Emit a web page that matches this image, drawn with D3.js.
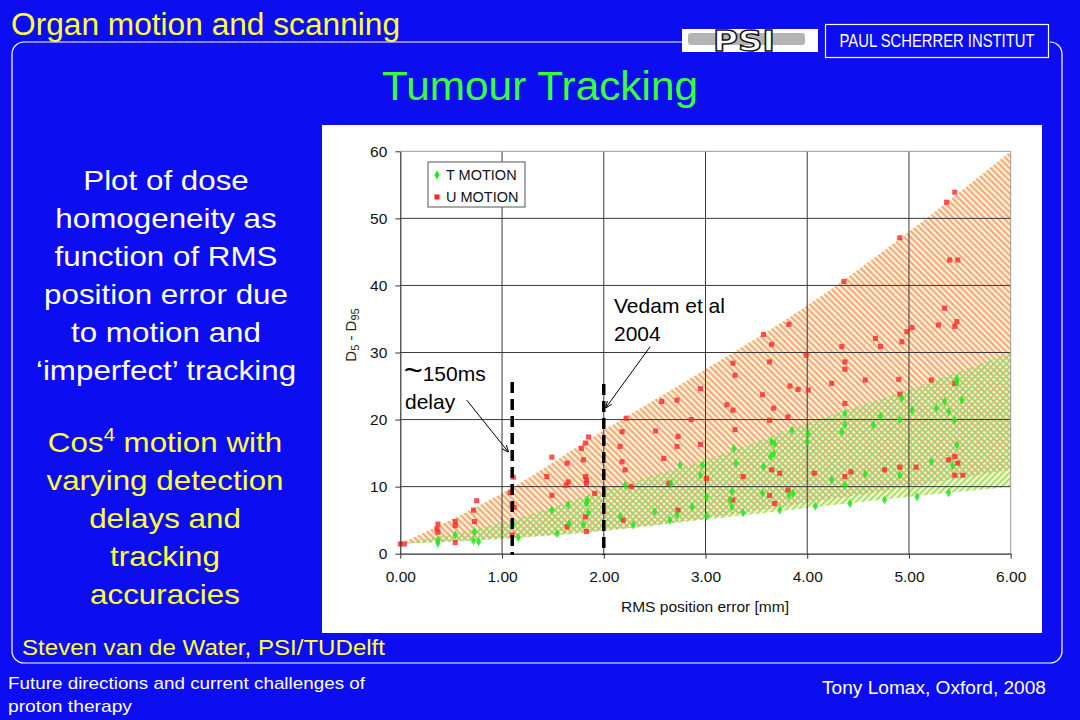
<!DOCTYPE html>
<html>
<head>
<meta charset="utf-8">
<script src="https://cdn.jsdelivr.net/npm/d3@7"></script>
<style>
  body { margin: 0; background: #0d0df2; }
  svg { display: block; }
</style>
</head>
<body>
<div id="slide"></div>
<script>
// data
var xTicks = [0, 1, 2, 3, 4, 5, 6];
var yTicks = [0, 10, 20, 30, 40, 50, 60];

// band edges (D5 - D95 against RMS error)
var bandX = [0, 1, 2, 3, 4, 5, 6];
var uUpper = [1.5, 9.0, 18.4, 27.5, 37.0, 48.0, 60.0];
var uLower = [1.5, 2.3, 3.5, 5.3, 7.6, 10.0, 12.5];
var tUpper = [1.5, 4.6, 9.5, 14.0, 19.5, 24.5, 30.0];
var tLower = [1.5, 2.2, 3.4, 5.1, 6.8, 8.5, 10.0];

// T MOTION points [rms, d5-d95]
var tMotion = [
  [0.37, 1.55], [0.37, 2.0], [0.54, 2.8], [0.72, 1.95], [0.77, 1.8], [0.73, 3.3],
  [1.11, 4.5], [1.16, 2.4], [1.49, 6.5], [1.54, 3.0], [1.65, 7.3], [1.66, 4.5],
  [1.80, 4.3], [1.83, 7.5], [1.84, 8.0], [1.85, 6.1],
  [2.16, 5.5], [2.21, 10.2], [2.29, 4.3], [2.50, 6.3], [2.65, 5.0], [2.66, 10.5],
  [2.72, 5.8], [2.75, 13.2], [2.87, 7.0], [2.95, 11.7], [2.97, 13.2],
  [3.01, 8.5], [3.01, 5.6], [3.24, 8.0], [3.26, 9.3], [3.26, 7.0], [3.28, 15.7],
  [3.30, 13.5], [3.37, 6.1], [3.56, 9.0], [3.57, 13.0], [3.64, 14.5], [3.65, 16.7],
  [3.67, 14.9], [3.68, 16.4], [3.73, 6.5], [3.82, 8.7], [3.85, 18.4], [3.86, 9.0],
  [4.00, 16.7], [4.01, 17.9], [4.08, 7.1], [4.24, 11.0], [4.34, 18.2], [4.37, 19.2],
  [4.37, 20.9], [4.37, 10.2], [4.42, 7.5], [4.57, 11.9], [4.65, 19.2], [4.72, 20.5],
  [4.76, 8.0], [4.91, 20.0], [4.93, 23.2], [4.91, 11.7], [5.03, 21.4], [5.08, 8.5],
  [5.22, 13.7], [5.27, 21.7], [5.35, 22.7], [5.39, 21.2], [5.39, 9.1], [5.43, 13.1],
  [5.45, 19.9], [5.47, 16.2], [5.47, 26.1], [5.47, 25.5], [5.52, 22.9]
];

// U MOTION points [rms, d5-d95]
var uMotion = [
  [0.00, 1.45], [0.04, 1.45], [0.36, 3.7], [0.37, 4.4], [0.37, 3.2], [0.54, 4.8],
  [0.54, 4.2], [0.54, 1.65], [0.72, 6.5], [0.75, 7.9], [0.73, 4.8],
  [1.10, 2.8], [1.10, 7.3], [1.12, 6.9], [1.08, 9.1], [1.11, 11.4],
  [1.44, 11.5], [1.49, 14.4], [1.49, 8.7], [1.64, 13.5], [1.65, 10.7], [1.63, 10.2],
  [1.64, 4.0], [1.78, 15.7], [1.80, 14.0], [1.82, 16.5], [1.85, 17.4], [1.82, 11.5],
  [1.83, 11.0], [1.83, 10.5], [1.82, 5.5], [1.83, 3.3], [1.91, 9.0],
  [2.16, 16.0], [2.18, 18.2], [2.18, 13.7], [2.21, 12.5], [2.22, 20.2], [2.19, 5.0],
  [2.27, 10.0], [2.51, 18.3], [2.57, 22.7], [2.59, 14.2], [2.64, 10.5], [2.72, 22.9],
  [2.72, 16.0], [2.73, 17.5], [2.73, 6.5], [2.86, 20.0], [2.95, 24.6], [2.95, 16.3],
  [3.01, 11.2], [3.21, 22.2], [3.27, 21.4], [3.27, 28.4], [3.29, 26.6], [3.29, 18.5],
  [3.27, 8.0], [3.37, 11.5], [3.56, 23.7], [3.57, 32.7], [3.63, 28.6], [3.65, 31.2],
  [3.63, 19.9], [3.67, 21.7], [3.65, 12.5], [3.73, 12.0], [3.63, 8.7], [3.68, 7.5],
  [3.81, 9.5], [3.81, 20.4], [3.83, 25.0], [3.91, 24.5], [3.82, 34.2], [3.99, 29.6],
  [4.01, 24.4], [4.07, 12.0], [4.24, 25.4], [4.34, 30.9], [4.36, 40.6], [4.37, 28.6],
  [4.37, 27.5], [4.37, 22.4], [4.37, 11.5], [4.43, 12.2], [4.57, 25.9], [4.67, 32.1],
  [4.72, 30.9], [4.76, 12.5], [4.90, 26.0], [4.91, 23.8], [4.91, 47.1], [4.93, 31.6],
  [4.98, 33.1], [5.03, 33.7], [4.91, 12.9], [5.07, 12.9], [5.22, 25.9], [5.29, 34.1],
  [5.35, 36.6], [5.37, 52.4], [5.45, 53.9], [5.40, 43.8], [5.48, 43.8], [5.47, 34.6],
  [5.45, 33.9], [5.45, 25.4], [5.39, 14.0], [5.45, 14.5], [5.48, 13.5], [5.45, 11.7],
  [5.53, 11.7]
];

// dashed delay markers [rms, top]
var delayLines = [[1.1, 25.6], [2.0, 25.3]];

var leftLines = ["Plot of dose", "homogeneity as", "function of RMS", "position error due",
  "to motion and", "\u2018imperfect\u2019 tracking"];
var yellowLines = ["motion with", "varying detection", "delays and", "tracking", "accuracies"];

var sans = "Liberation Sans, Arial, sans-serif";

var svg = d3.select("#slide").append("svg")
  .attr("width", 1080)
  .attr("height", 720);

var defs = svg.append("defs");
defs.append("pattern")
  .attr("id", "uHatch")
  .attr("patternUnits", "userSpaceOnUse")
  .attr("width", 4.4).attr("height", 4.4)
  .attr("patternTransform", "rotate(-45)")
  .append("rect").attr("width", 1.9).attr("height", 4.4).attr("fill", "#f39482");
defs.append("pattern")
  .attr("id", "tHatch")
  .attr("patternUnits", "userSpaceOnUse")
  .attr("width", 4.4).attr("height", 4.4)
  .attr("patternTransform", "rotate(45)")
  .append("rect").attr("width", 1.9).attr("height", 4.4).attr("fill", "#82e262");
var arrow = defs.append("marker")
  .attr("id", "arr")
  .attr("viewBox", "0 0 10 10")
  .attr("refX", 9).attr("refY", 5)
  .attr("markerWidth", 7).attr("markerHeight", 7)
  .attr("orient", "auto");
arrow.append("path").attr("d", "M0,1 L10,5 L0,9").attr("fill", "none").attr("stroke", "#000").attr("stroke-width", 1.4);

// slide frame, open where the logo sits
svg.append("path")
  .attr("d", "M682,42 H24 A12,12 0 0 0 12,54 V651 A12,12 0 0 0 24,663 H1050 A12,12 0 0 0 1062,651 V54 A12,12 0 0 0 1050,42")
  .attr("fill", "none")
  .attr("stroke", "#fff")
  .attr("stroke-width", 1.2);

svg.append("text")
  .attr("x", 11).attr("y", 35)
  .attr("font-family", sans)
  .attr("font-size", 31)
  .attr("textLength", 389)
  .attr("lengthAdjust", "spacingAndGlyphs")
  .attr("fill", "#ffff3c")
  .text("Organ motion and scanning");

// logo
svg.append("rect").attr("x", 682).attr("y", 29).attr("width", 136).attr("height", 23).attr("fill", "#fff");
svg.append("rect").attr("x", 688).attr("y", 33).attr("width", 117).attr("height", 12).attr("rx", 3).attr("fill", "#b4b4b4");
svg.append("text")
  .attr("x", 713).attr("y", 51)
  .attr("font-family", "DejaVu Sans, sans-serif")
  .attr("font-weight", "bold")
  .attr("font-size", 28)
  .attr("textLength", 62)
  .attr("lengthAdjust", "spacingAndGlyphs")
  .attr("fill", "#fff")
  .attr("stroke", "#111")
  .attr("stroke-width", 1.3)
  .text("PSI");
svg.append("rect").attr("x", 825.5).attr("y", 24.5).attr("width", 223).attr("height", 33)
  .attr("fill", "#0d0df2").attr("stroke", "#fff").attr("stroke-width", 1.2);
svg.append("text")
  .attr("transform", "translate(937,47) scale(0.78,1)")
  .attr("text-anchor", "middle")
  .attr("font-family", sans)
  .attr("font-size", 19)
  .attr("fill", "#fff")
  .text("PAUL SCHERRER INSTITUT");

svg.append("text")
  .attr("x", 540).attr("y", 100)
  .attr("text-anchor", "middle")
  .attr("font-family", sans)
  .attr("font-size", 40)
  .attr("textLength", 316)
  .attr("lengthAdjust", "spacingAndGlyphs")
  .attr("fill", "#3cff3c")
  .text("Tumour Tracking");

// left description, stretched like the slide
var leftG = svg.append("g").attr("transform", "translate(166,0) scale(1.12,1)");
leftG.selectAll("text")
  .data(leftLines).enter().append("text")
  .attr("x", 0)
  .attr("y", (d, i) => 190 + i * 38)
  .attr("text-anchor", "middle")
  .attr("font-family", sans)
  .attr("font-size", 28)
  .attr("fill", "#fff")
  .text(d => d);

var yellowG = svg.append("g").attr("transform", "translate(165,0) scale(1.12,1)");
var yl = yellowG.selectAll("text")
  .data(yellowLines).enter().append("text")
  .attr("x", 0)
  .attr("y", (d, i) => 452 + i * 38)
  .attr("text-anchor", "middle")
  .attr("font-family", sans)
  .attr("font-size", 28)
  .attr("fill", "#ffff3c");
yl.each(function(d, i) {
  var t = d3.select(this);
  if (i === 0) {
    t.append("tspan").text("Cos");
    t.append("tspan").attr("dy", -11).attr("font-size", 18).text("4");
    t.append("tspan").attr("dy", 11).text(" " + d);
  } else {
    t.text(d);
  }
});

svg.append("text")
  .attr("x", 22).attr("y", 655)
  .attr("font-family", sans)
  .attr("font-size", 22)
  .attr("textLength", 363)
  .attr("lengthAdjust", "spacingAndGlyphs")
  .attr("fill", "#ffff3c")
  .text("Steven van de Water, PSI/TUDelft");

svg.append("text")
  .attr("x", 8).attr("y", 689).attr("font-family", sans).attr("font-size", 17)
  .attr("textLength", 357).attr("lengthAdjust", "spacingAndGlyphs").attr("fill", "#fff")
  .text("Future directions and current challenges of");
svg.append("text")
  .attr("x", 8).attr("y", 712).attr("font-family", sans).attr("font-size", 17)
  .attr("textLength", 124).attr("lengthAdjust", "spacingAndGlyphs").attr("fill", "#fff")
  .text("proton therapy");
svg.append("text")
  .attr("x", 822).attr("y", 694).attr("font-family", sans).attr("font-size", 18)
  .attr("textLength", 224).attr("lengthAdjust", "spacingAndGlyphs").attr("fill", "#fff")
  .text("Tony Lomax, Oxford, 2008");

// chart panel
svg.append("rect").attr("x", 322).attr("y", 125).attr("width", 720).attr("height", 508).attr("fill", "#fff");

var x = d3.scaleLinear().domain([0, 6]).range([400.3, 1010.7]);
var y = d3.scaleLinear().domain([0, 60]).range([553.7, 151.3]);

var chart = svg.append("g").attr("font-family", sans);

var bandU = bandX.map((v, i) => ({ x: v, lo: uLower[i], hi: uUpper[i] }));
var bandT = bandX.map((v, i) => ({ x: v, lo: tLower[i], hi: tUpper[i] }));
var area = d3.area()
  .x(d => x(d.x))
  .y0(d => y(d.lo))
  .y1(d => y(d.hi))
  .curve(d3.curveMonotoneX);

chart.append("path").attr("d", area(bandU)).attr("fill", "#fff1c2").attr("opacity", 0.95);
chart.append("path").attr("d", area(bandT)).attr("fill", "#fff1c2").attr("opacity", 0.95);
chart.append("path").attr("d", area(bandU)).attr("fill", "url(#uHatch)").attr("opacity", 0.85);
chart.append("path").attr("d", area(bandT)).attr("fill", "url(#tHatch)").attr("opacity", 0.85);

// grid
chart.append("g").selectAll("line")
  .data(yTicks.slice(1, -1)).enter().append("line")
  .attr("x1", x(0)).attr("x2", x(6))
  .attr("y1", d => y(d)).attr("y2", d => y(d))
  .attr("stroke", "#3a3a3a").attr("stroke-width", 1);
chart.append("g").selectAll("line")
  .data(xTicks.slice(1, -1)).enter().append("line")
  .attr("y1", y(0)).attr("y2", y(60))
  .attr("x1", d => x(d)).attr("x2", d => x(d))
  .attr("stroke", "#3a3a3a").attr("stroke-width", 1);
chart.append("path")
  .attr("d", `M${x(0)},${y(60)}H${x(6)}V${y(0)}`)
  .attr("fill", "none").attr("stroke", "#9a9a9a").attr("stroke-width", 1);

// points
var sq = d3.symbol().type(d3.symbolSquare).size(26);
var dm = d3.symbol().type(d3.symbolDiamond).size(24);
chart.append("g").selectAll("path")
  .data(uMotion).enter().append("path")
  .attr("d", sq)
  .attr("transform", d => `translate(${x(d[0])},${y(d[1])})`)
  .attr("fill", "#ff2525")
  .attr("opacity", 0.8);
chart.append("g").selectAll("path")
  .data(tMotion).enter().append("path")
  .attr("d", dm)
  .attr("transform", d => `translate(${x(d[0])},${y(d[1])})`)
  .attr("fill", "#1ee81e")
  .attr("opacity", 0.85);

// axes
var xAxis = chart.append("g")
  .attr("transform", `translate(0,${y(0)})`)
  .call(d3.axisBottom(x).tickValues(xTicks).tickFormat(d3.format(".2f")).tickSize(5).tickSizeOuter(0).tickPadding(12));
var yAxis = chart.append("g")
  .attr("transform", `translate(${x(0)},0)`)
  .call(d3.axisLeft(y).tickValues(yTicks).tickSize(5).tickSizeOuter(0).tickPadding(8));
[xAxis, yAxis].forEach(function(a) {
  a.select(".domain").attr("stroke", "#333").attr("stroke-width", 1.2);
  a.selectAll(".tick line").attr("stroke", "#333");
  a.selectAll("text").attr("font-size", 15.5).attr("fill", "#111").attr("font-family", sans);
});

chart.append("text")
  .attr("x", 705).attr("y", 612)
  .attr("text-anchor", "middle")
  .attr("font-size", 15.5).attr("fill", "#111")
  .text("RMS position error [mm]");

var yLab = chart.append("text")
  .attr("transform", "translate(356,335) rotate(-90)")
  .attr("text-anchor", "middle")
  .attr("font-size", 15).attr("fill", "#222");
yLab.append("tspan").text("D");
yLab.append("tspan").attr("dy", 3).attr("font-size", 11).text("5");
yLab.append("tspan").attr("dy", -3).text(" - D");
yLab.append("tspan").attr("dy", 3).attr("font-size", 11).text("95");

// legend
var lg = chart.append("g");
lg.append("rect").attr("x", 428).attr("y", 162).attr("width", 97).attr("height", 45)
  .attr("fill", "#fff").attr("stroke", "#555").attr("stroke-width", 1);
lg.append("path").attr("d", dm).attr("transform", "translate(437,175)").attr("fill", "#1ee81e");
lg.append("path").attr("d", sq).attr("transform", "translate(437,197)").attr("fill", "#ff2525");
lg.append("text").attr("x", 446).attr("y", 180).attr("font-size", 14.5).attr("fill", "#111").text("T MOTION");
lg.append("text").attr("x", 446).attr("y", 202).attr("font-size", 14.5).attr("fill", "#111").text("U MOTION");

// delay markers
chart.append("g").selectAll("line")
  .data(delayLines).enter().append("line")
  .attr("x1", d => x(d[0])).attr("x2", d => x(d[0]))
  .attr("y1", d => y(d[1])).attr("y2", y(0) + 1)
  .attr("stroke", "#000").attr("stroke-width", 3.5)
  .attr("stroke-dasharray", "11,6");

// annotations
var ann = chart.append("g").attr("fill", "#000");
var t1 = ann.append("text").attr("x", 404).attr("y", 381).attr("font-size", 21);
t1.append("tspan").attr("font-size", 32).text("~");
t1.append("tspan").text("150ms");
ann.append("text").attr("x", 405).attr("y", 409).attr("font-size", 21).text("delay");
ann.append("text").attr("x", 614).attr("y", 313).attr("font-size", 21).text("Vedam et al");
ann.append("text").attr("x", 614).attr("y", 341).attr("font-size", 21).text("2004");
ann.append("line")
  .attr("x1", x(0.653)).attr("y1", y(22.9)).attr("x2", x(1.06)).attr("y2", y(15.2))
  .attr("stroke", "#000").attr("stroke-width", 1).attr("marker-end", "url(#arr)");
ann.append("line")
  .attr("x1", x(2.455)).attr("y1", y(30.85)).attr("x2", x(2.022)).attr("y2", y(21.8))
  .attr("stroke", "#000").attr("stroke-width", 1).attr("marker-end", "url(#arr)");
</script>
</body>
</html>
